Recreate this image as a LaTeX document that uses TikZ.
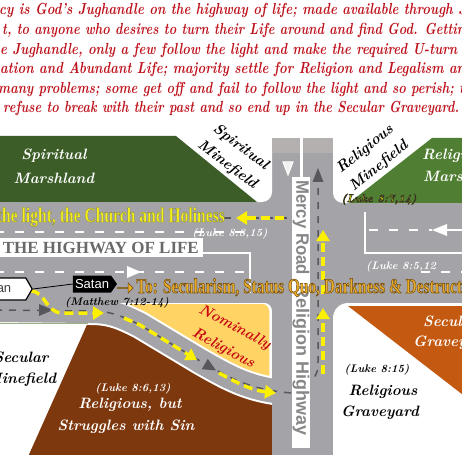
\documentclass[tikz,border=0pt]{standalone}
\usepackage{fontspec}
\usetikzlibrary{arrows.meta,shapes.symbols,shapes.arrows}
\newfontfamily\signfont{Liberation Sans}
\newfontfamily\postfont{Liberation Serif}
\definecolor{roadgray}{RGB}{164,164,168}
\definecolor{blockgray}{RGB}{181,176,176}
\definecolor{darkdash}{RGB}{88,88,92}
\definecolor{marshdark}{RGB}{60,93,40}
\definecolor{marshlight}{RGB}{80,126,50}
\definecolor{sinbrown}{RGB}{126,56,14}
\definecolor{graveorange}{RGB}{196,89,17}
\definecolor{nomyellow}{RGB}{255,212,100}
\definecolor{versered}{RGB}{190,18,28}
\definecolor{nomred}{RGB}{200,10,20}
\definecolor{lightyellow}{RGB}{245,240,25}
\definecolor{arrowyellow}{RGB}{250,240,0}
\definecolor{goldtext}{RGB}{232,172,40}
\definecolor{goldedge}{RGB}{110,70,10}
\definecolor{highwaytext}{RGB}{105,105,108}
\newcommand{\edgetext}[3]{\special{pdf:literal direct #1 RG #2 w 2 Tr}#3\special{pdf:literal direct 0 Tr}}
\newcommand{\rampline}{(-5,310) -- (90,311) .. controls (110,311) and (120,315) .. (140,325) -- (200,361) .. controls (230,378) and (250,390) .. (292,393)}
\begin{document}
\begin{tikzpicture}[x=1pt, y=-1pt,
    verse/.style={anchor=base west, inner sep=0pt, text=versered, font=\fontsize{16}{18}\selectfont\bfseries\itshape},
    script/.style={inner sep=0pt, font=\fontsize{15}{22}\selectfont\bfseries\itshape},
    cite/.style={inner sep=0pt, font=\fontsize{11}{13}\selectfont\bfseries\itshape},
    roadtext/.style={inner sep=0pt, text=highwaytext!80!white, font=\signfont\bfseries\fontsize{18}{20}\selectfont},
    graydash/.style={darkdash, line width=1.5pt, dash pattern=on 7pt off 7pt},
    whitedash/.style={white, line width=2pt, dash pattern=on 9pt off 11pt},
    yarrow/.style={arrowyellow, line width=3.5pt, dash pattern=on 9pt off 5pt, -{Triangle[length=11pt,width=13pt]}}]
  \useasboundingbox (0,0) rectangle (462,454);
  \clip (0,0) rectangle (462,454);
  \fill[roadgray] (-5,138) rectangle (467,459);
  \fill[white, rounded corners=10pt] (-30,-30) rectangle (272,202);
  \fill[white, rounded corners=10pt] (333,-30) rectangle (490,203);
  \fill[white, rounded corners=15pt] (333,303) rectangle (490,480);
  \fill[white, rounded corners=8pt] (-30,303) rectangle (272,480);
  \fill[blockgray] (272,138) rectangle (300,153);
  \fill[blockgray] (303,138) rectangle (333,153);
  \fill[marshdark] (-5,136) -- (176,136) -- (257,202) -- (-5,202) -- cycle;
  \fill[marshlight] (432,138) -- (467,138) -- (467,203) -- (349,203) -- cycle;
  \fill[graveorange] (348,306) -- (467,306) -- (467,398) -- cycle;
  \filldraw[fill=nomyellow, draw=white, line width=1.5pt, rounded corners=8pt] (105,303) -- (270,303) -- (270,395) -- (200,362) -- (130,318) -- cycle;
  \fill[sinbrown] (90,318) -- (140,330) -- (200,366) -- (272,397) -- (272,459) -- (27,459) -- cycle;
  \draw[white, line width=28pt, line join=round] \rampline;
  \draw[roadgray, line width=24pt, line join=round] \rampline;
  \fill[roadgray] (-5,285) rectangle (272,303);
  \fill[roadgray] (272,300) rectangle (333,459);
  \draw[marshlight!60!white, line width=0.8pt] (-5,323) -- (88,323);

  \draw[whitedash] (-5,232) -- (250,232);
  \draw[whitedash] (-5,272) -- (250,272);
  \fill[white] (127,266) -- (141,272) -- (127,278) -- cycle;
  \draw[white, line width=2pt] (203,253) -- (250,253) -- (250,293);
  \draw[graydash] (224,218) -- (292,218);
  \draw[white, line width=2pt] (365,212) -- (365,253) -- (467,253);
  \draw[whitedash] (369,230) -- (432,230);
  \fill[white] (432,230) -- (447,224) -- (447,236) -- cycle;
  \draw[white, line width=2pt] (446,230) -- (467,230);
  \draw[whitedash] (421,272) -- (467,272);
  \draw[white, line width=2.5pt] (301.5,138) -- (301.5,183);
  \filldraw[fill=white!85!roadgray, draw=white, line width=1pt] (283,162) -- (293,162) -- (288,175) -- cycle;
  \fill[darkdash] (318,168) -- (323.5,182) -- (312.5,182) -- cycle;
  \draw[graydash] (318,188) -- (318,360) .. controls (318,372) .. (311,382);
  \draw[graydash] \rampline;
  \fill[darkdash] (39,304) -- (53,310) -- (39,316) -- cycle;
  \fill[darkdash, shift={(210,367)}, rotate=-30] (-6,-6) -- (7,0) -- (-6,6) -- cycle;

  \fill[white] (292,177) rectangle (310,448);
  \node[roadtext, anchor=west, rotate=-90] (mercy) at (301,180) {\resizebox{95pt}{\height}{Mercy Road}};
  \node[roadtext, anchor=west, rotate=-90] (religionhwy) at (301,285) {\resizebox{150pt}{\height}{Religion Highway}};

  \draw[yarrow] (31,291) .. controls (46,292) and (45,312) .. (62,313) -- (104,313);
  \draw[yarrow] (124,318) -- (140,325) -- (197,360);
  \draw[yarrow] (219,373) .. controls (236,382) and (250,390) .. (276,393);
  \draw[yarrow] (323,374) -- (323,308);
  \draw[yarrow] (323,294) -- (323,230);
  \draw[yarrow] (284,218) -- (236,218);

  \node[verse] (verse1) at (-1,15) {\resizebox{467pt}{\height}{cy is God's Jughandle on the highway of life; made available through J}};
  \node[verse] (verse2) at (2,35) {\resizebox{463pt}{\height}{t, to anyone who desires to turn their Life around and find God. Gettin}};
  \node[verse] (verse3) at (0,54.5) {\resizebox{457pt}{\height}{e Jughandle, only a few follow the light and make the required U-turn}};
  \node[verse] (verse4) at (0,74) {\resizebox{465pt}{\height}{ation and Abundant Life; majority settle for Religion and Legalism an}};
  \node[verse] (verse5) at (-2,93.5) {\resizebox{466pt}{\height}{many problems; some get off and fail to follow the light and so perish; t}};
  \node[verse] (verse6) at (3,113) {\resizebox{456pt}{\height}{refuse to break with their past and so end up in the Secular Graveyard.}};

  \node[script, text=white, anchor=base] (marshleft) at (54,160) {Spiritual};
  \node[script, text=white, anchor=base] (marshleftb) at (54,183) {Marshland};
  \node[script, text=white, anchor=base west] (marshright) at (422,160) {Religi};
  \node[script, text=white, anchor=base west] (marshrightb) at (423,182) {Marsh};
  \node[script, rotate=-37, align=center] (minefieldleft) at (234,156) {Spiritual\\Minefield};
  \node[script, rotate=39, align=center] (minefieldright) at (372,158) {Religious\\Minefield};
  \node[fill=white, anchor=east, inner xsep=4pt, inner ysep=2pt, minimum height=19pt, text=highwaytext, font=\postfont\bfseries\fontsize{17}{20}\selectfont] (highway) at (203,247.5) {\resizebox{196pt}{\height}{THE HIGHWAY OF LIFE}};

  \node[signal, signal to=east, signal pointer angle=120, fill=white, draw=black, line width=1.2pt, text=black!75, font=\signfont\fontsize{13}{15}\selectfont, minimum width=50pt, minimum height=22pt, inner sep=1pt] (leftsign) at (4,289) {an};
  \node[signal, signal to=east, signal pointer angle=110, fill=black, text=white, font=\signfont\fontsize{13}{15}\selectfont, minimum width=44pt, minimum height=17pt, inner sep=1pt] (satan) at (92,284) {Satan};
  \draw[line width=0.8pt] (leftsign.east) -- (satan.west);
  \node[single arrow, fill=goldtext, draw=goldedge, line width=0.5pt, minimum height=16pt, minimum width=10pt, single arrow head extend=2.5pt, inner sep=0pt] (goarrow) at (125,288) {};
  \node[cite, anchor=base] (matthew) at (117,305) {(Matthew 7:12-14)};

  \node[script, text=nomred, rotate=-28, align=center, font=\fontsize{15}{24}\selectfont\bfseries\itshape] (nominal) at (229,338) {Nominally\\Religious};
  \node[script, anchor=base] (secularmine) at (21,362) {Secular};
  \node[script, anchor=base] (secularmineb) at (21,383) {Minefield};
  \node[cite, text=white, anchor=base] (luke613) at (133,391) {(Luke 8:6,13)};
  \node[script, text=white, anchor=base] (struggle) at (130,408) {Religious, but};
  \node[script, text=white, anchor=base] (struggleb) at (126,430) {Struggles with Sin};
  \node[script, text=white, anchor=base west] (secgrave) at (423,326) {Secul};
  \node[script, text=white, anchor=base west] (secgraveb) at (413,346) {Gravey};
  \node[cite, anchor=base] (luke815b) at (377,372) {(Luke 8:15)};
  \node[script, anchor=base] (relgrave) at (383,395) {Religious};
  \node[script, anchor=base] (relgraveb) at (380,416) {Graveyard};

  \node[cite, text=arrowyellow, anchor=base] (luke714) at (379,202) {\edgetext{0.2 0.2 0.15}{0.6}{(Luke 8:7,14)}};
  \node[cite, text=white, anchor=base] (luke815a) at (230,236) {(Luke 8:8,15)};
  \node[cite, text=white, anchor=base west] (luke512) at (366,269) {(Luke 8:5,12};
  \node[anchor=base east, inner sep=0pt, text=lightyellow, font=\postfont\bfseries\fontsize{21}{24}\selectfont] (lighttext) at (225,222) {\resizebox{228pt}{\height}{\edgetext{0.5 0.5 0.25}{0.3}{the light, the Church and Holiness}}};
  \node[anchor=base west, inner sep=0pt, text=goldtext, font=\postfont\bfseries\fontsize{21}{24}\selectfont] (destination) at (136,293) {\resizebox{330pt}{\height}{\edgetext{0.43 0.27 0.04}{0.5}{To: Secularism, Status Quo, Darkness \& Destructi}}};
\end{tikzpicture}
\end{document}
